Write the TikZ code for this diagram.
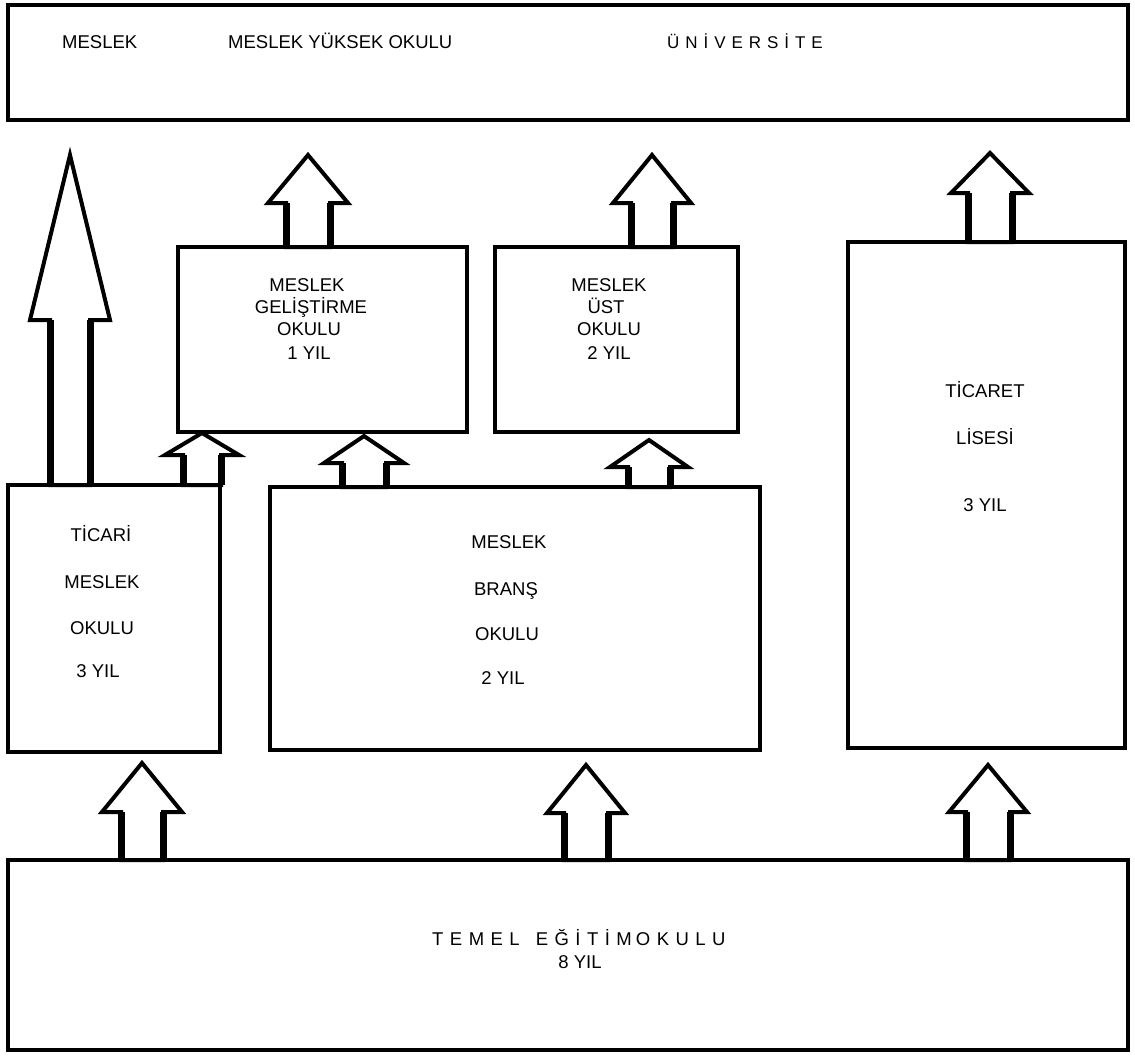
\documentclass[tikz,border=0pt]{standalone}
\usepackage{fontspec}
\setmainfont{Liberation Sans}
\usetikzlibrary{calc}

\tikzset{
  schoolbox/.style={draw, line width=3.5pt, fill=white, inner sep=0pt, outer sep=0pt, anchor=north west},
  blockarrow/.style={draw, line width=4pt, line join=miter, fill=white},
  shaftline/.style={line width=7pt},
  lbl/.style={inner sep=0pt, text height=13.3pt, text depth=0pt, font=\fontsize{18.5}{20}\selectfont},
  toplbl/.style={lbl, anchor=west},
}

% hollow upward block arrow: #1 base point, #2 shaft length, #3 head length,
% #4 head half width, #5 shaft half width
\newcommand\blockup[5]{%
  \draw[blockarrow] #1 ++(-#5,0) -- ++(0,-#2) -- ++({-(#4-#5)},0) -- ++(#4,-#3)
     -- ++(#4,#3) -- ++({-(#4-#5)},0) -- ++(0,#2) -- cycle;
  \draw[shaftline] #1 ++(-#5,0) -- ++(0,-#2) ++({2*#5},0) -- ++(0,#2);
}

\begin{document}
\begin{tikzpicture}[x=1pt,y=-1pt]
\useasboundingbox (0,0) rectangle (1135,1055);

% boxes
\node[schoolbox, minimum width=1120pt, minimum height=115pt] (uni) at (8,5) {};
\node[schoolbox, minimum width=212pt, minimum height=267pt] (ticari) at (8,485) {};
\node[schoolbox, minimum width=289pt, minimum height=185pt] (mg) at (178,247) {};
\node[schoolbox, minimum width=243pt, minimum height=185pt] (mu) at (495,247) {};
\node[schoolbox, minimum width=277pt, minimum height=506pt] (tl) at (848,242) {};
\node[schoolbox, minimum width=490pt, minimum height=263pt] (mb) at (270,487) {};
\node[schoolbox, minimum width=1120pt, minimum height=190pt] (temel) at (8,860) {};

% arrows between the levels
\blockup{(ticari.north -| 70,0)}{165}{165}{40}{20}
\blockup{(mg.north -| 308,0)}{44}{48}{40}{22}
\blockup{(mu.north -| 652,0)}{44}{48}{39}{21}
\blockup{(tl.north -| 990,0)}{49}{40}{39}{22}
\blockup{(ticari.north -| 202,0)}{30}{22}{37}{19}
\blockup{(mb.north -| 364,0)}{24}{27}{40}{22}
\blockup{(mb.north -| 649,0)}{20}{27}{39}{21}
\blockup{(temel.north -| 142,0)}{48}{49}{40}{21}
\blockup{(temel.north -| 586,0)}{47}{48}{39}{22}
\blockup{(temel.north -| 988,0)}{48}{47}{39}{22}

% top level
\node[toplbl] (t1) at (62,41.5) {MESLEK};
\node[toplbl] (t2) at (228,41.5) {MESLEK YÜKSEK OKULU};
\node[toplbl, font=\fontsize{17}{20}\selectfont\addfontfeature{LetterSpace=35}] (t3) at (667,41.5) {ÜNİVERSİTE};

% ticari meslek okulu
\node[lbl] (a1) at (101,535) {TİCARİ};
\node[lbl] (a2) at (102,582) {MESLEK};
\node[lbl] (a3) at (102,628) {OKULU};
\node[lbl] (a4) at (98,671) {3 YIL};

% meslek geliştirme okulu
\node[lbl] (b1) at (307,285) {MESLEK};
\node[lbl] (b2) at (311,307) {GELİŞTİRME};
\node[lbl] (b3) at (309,329) {OKULU};
\node[lbl] (b4) at (309,353) {1 YIL};

% meslek üst okulu
\node[lbl] (c1) at (609,285) {MESLEK};
\node[lbl] (c2) at (606,307) {ÜST};
\node[lbl] (c3) at (609,329) {OKULU};
\node[lbl] (c4) at (609,353) {2 YIL};

% meslek branş okulu
\node[lbl] (d1) at (509,542) {MESLEK};
\node[lbl] (d2) at (506,589) {BRANŞ};
\node[lbl] (d3) at (507,634) {OKULU};
\node[lbl] (d4) at (503,678) {2 YIL};

% ticaret lisesi
\node[lbl] (e1) at (985,391) {TİCARET};
\node[lbl] (e2) at (985,438) {LİSESİ};
\node[lbl] (e3) at (985,505) {3 YIL};

% temel eğitim okulu
\node[lbl, anchor=west, font=\fontsize{18.5}{20}\selectfont\addfontfeature{LetterSpace=35}] (f1) at (432,939)
  {TEMEL\hspace{16pt}EĞİTİM\hspace{4pt}OKULU};
\node[lbl] (f2) at (580,962) {8 YIL};
\end{tikzpicture}
\end{document}
